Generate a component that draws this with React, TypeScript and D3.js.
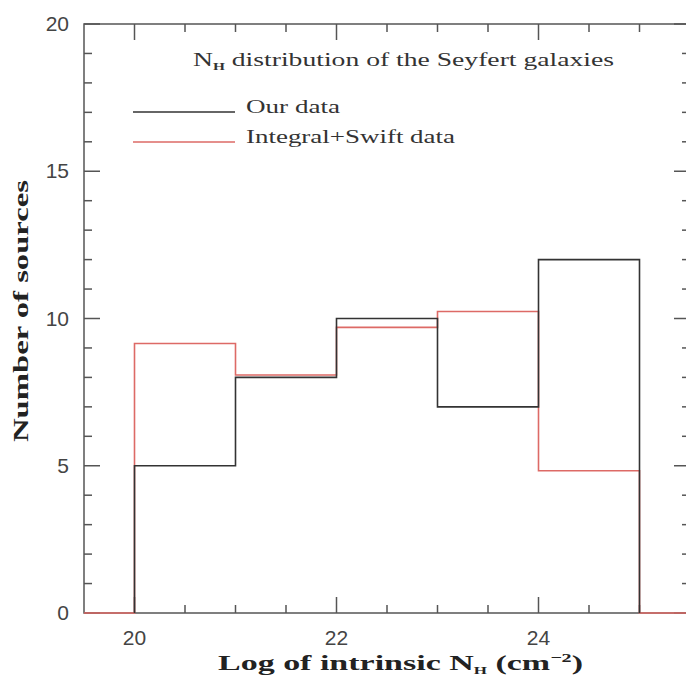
import React, { useEffect, useRef } from "react";
import * as d3 from "d3";

const width = 686;
const height = 680;

// bin edges (log NH) and counts per bin
const binEdges = [20, 21, 22, 23, 24, 25];
const ourData = [5, 8, 10, 7, 12];
const integralSwift = [9.15, 8.08, 9.7, 10.24, 4.83];

const xTicks = [20, 22, 24];
const yTicks = [0, 5, 10, 15, 20];

const axisColor = "#555";
const redColor = "#dd6a66";
const serif = "'Liberation Serif', 'DejaVu Serif', serif";

const App = () => {
    const ref = useRef<SVGSVGElement>(null);

    useEffect(() => {
        const svg = d3.select(ref.current);
        svg.selectAll("*").remove();

        const x = d3.scaleLinear([19.5, 25.5], [84, 690]);
        const y = d3.scaleLinear([0, 20], [613, 24]);
        const [x0, x1] = x.range();
        const [y0, y1] = y.range();

        const ax = svg.append("g").attr("stroke", axisColor).attr("stroke-width", 1.5);

        // frame
        ax.append("rect")
            .attr("x", x0).attr("y", y1)
            .attr("width", x1 - x0).attr("height", y0 - y1)
            .attr("fill", "none");

        // x ticks, bottom and top, minor every 0.5
        d3.range(20, 25.51, 0.5).forEach((v) => {
            const major = Math.abs(v % 2) < 1e-6;
            const len = major ? 16 : 8;
            ax.append("line").attr("x1", x(v)).attr("x2", x(v)).attr("y1", y0).attr("y2", y0 - len);
            ax.append("line").attr("x1", x(v)).attr("x2", x(v)).attr("y1", y1).attr("y2", y1 + len);
        });

        // y ticks, left and right, minor every 1
        d3.range(0, 21, 1).forEach((v) => {
            const len = v % 5 === 0 ? 16 : 8;
            ax.append("line").attr("y1", y(v)).attr("y2", y(v)).attr("x1", x0).attr("x2", x0 + len);
            ax.append("line").attr("y1", y(v)).attr("y2", y(v)).attr("x1", x1).attr("x2", x1 - len);
        });

        const tickFont = "'Liberation Sans', Arial, sans-serif";
        svg.append("g").selectAll("text").data(xTicks).join("text")
            .attr("x", (d) => x(d)).attr("y", 645)
            .attr("text-anchor", "middle")
            .attr("font-family", tickFont).attr("font-size", 21).attr("fill", "#444")
            .text((d) => d);
        svg.append("g").selectAll("text").data(yTicks).join("text")
            .attr("x", 69).attr("y", (d) => y(d) + 7)
            .attr("text-anchor", "end")
            .attr("font-family", tickFont).attr("font-size", 21).attr("fill", "#444")
            .text((d) => d);

        // histograms
        const step = d3.line<[number, number]>()
            .x((d) => x(d[0]))
            .y((d) => y(d[1]))
            .curve(d3.curveStepAfter);

        const redPts: [number, number][] = [[19.5, 0]];
        integralSwift.forEach((v, i) => redPts.push([binEdges[i], v]));
        redPts.push([25, 0], [25.5, 0]);

        const blackPts: [number, number][] = [[20, 0]];
        ourData.forEach((v, i) => blackPts.push([binEdges[i], v]));
        blackPts.push([25, 0], [25, 0]);

        svg.append("path").datum(redPts)
            .attr("fill", "none").attr("stroke", redColor).attr("stroke-width", 1.6)
            .attr("d", step);
        svg.append("path").datum(blackPts)
            .attr("fill", "none").attr("stroke", "#333").attr("stroke-width", 1.6)
            .attr("d", step);

        // title + legend (wide roman look: glyphs stretched to the reference widths)
        const title = svg.append("text")
            .attr("x", 193).attr("y", 66)
            .attr("textLength", 421).attr("lengthAdjust", "spacingAndGlyphs")
            .attr("font-family", serif).attr("font-size", 18).attr("fill", "#333");
        title.append("tspan").text("N");
        title.append("tspan").attr("font-size", 10).attr("dy", 4).attr("font-weight", "bold").text("H");
        title.append("tspan").attr("dy", -4).text(" distribution of the Seyfert galaxies");

        svg.append("line").attr("x1", 133).attr("x2", 235).attr("y1", 112).attr("y2", 112)
            .attr("stroke", "#333").attr("stroke-width", 1.5);
        svg.append("line").attr("x1", 133).attr("x2", 235).attr("y1", 142).attr("y2", 142)
            .attr("stroke", redColor).attr("stroke-width", 1.5);
        svg.append("text").attr("x", 246).attr("y", 113)
            .attr("textLength", 94).attr("lengthAdjust", "spacingAndGlyphs")
            .attr("font-family", serif).attr("font-size", 18).attr("fill", "#333").text("Our data");
        svg.append("text").attr("x", 246).attr("y", 143)
            .attr("textLength", 209).attr("lengthAdjust", "spacingAndGlyphs")
            .attr("font-family", serif).attr("font-size", 18).attr("fill", "#333").text("Integral+Swift data");

        // axis titles
        const xt = svg.append("text")
            .attr("x", 218).attr("y", 670)
            .attr("textLength", 365).attr("lengthAdjust", "spacingAndGlyphs")
            .attr("font-family", serif).attr("font-weight", "bold").attr("font-size", 22).attr("fill", "#222");
        xt.append("tspan").text("Log of intrinsic N");
        xt.append("tspan").attr("font-size", 11).attr("dy", 4).text("H");
        xt.append("tspan").attr("dy", -4).text(" (cm");
        xt.append("tspan").attr("font-size", 13).attr("dy", -8).text("\u22122");
        xt.append("tspan").attr("dy", 8).text(")");

        svg.append("text")
            .attr("transform", "translate(28,442) rotate(-90)")
            .attr("textLength", 262).attr("lengthAdjust", "spacingAndGlyphs")
            .attr("font-family", serif).attr("font-weight", "bold").attr("font-size", 22).attr("fill", "#222")
            .text("Number of sources");
    }, []);

    return (
        <svg ref={ref} width={width} height={height}
            style={{ position: "absolute", left: 0, top: 0, background: "#fff" }} />
    );
};

export default App;
